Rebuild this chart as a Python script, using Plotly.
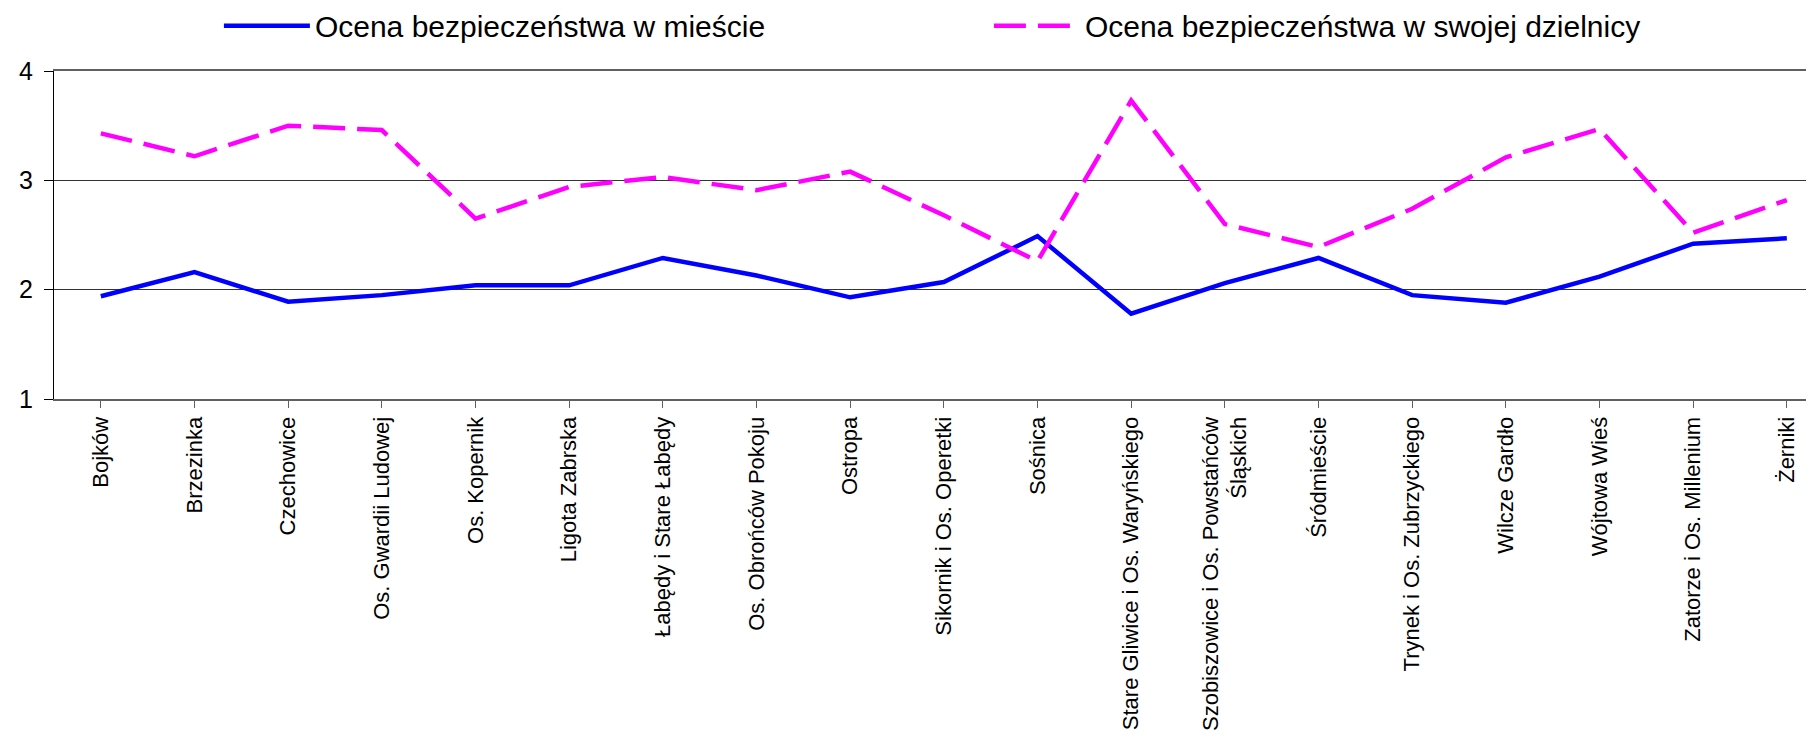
import plotly.graph_objects as go

districts = [
    "Bojków", "Brzezinka", "Czechowice", "Os. Gwardii Ludowej", "Os. Kopernik",
    "Ligota Zabrska", "Łabędy i Stare Łabędy", "Os. Obrońców Pokoju", "Ostropa",
    "Sikornik i Os. Operetki", "Sośnica", "Stare Gliwice i Os. Waryńskiego",
    "Szobiszowice i Os. Powstańców<br>Śląskich", "Śródmieście", "Trynek i Os. Zubrzyckiego",
    "Wilcze Gardło", "Wójtowa Wieś", "Zatorze i Os. Millenium", "Żerniki",
]

city_safety = [1.94, 2.16, 1.89, 1.95, 2.04, 2.04, 2.29, 2.13, 1.93, 2.07,
               2.49, 1.78, 2.06, 2.29, 1.95, 1.88, 2.12, 2.42, 2.47]

district_safety = [3.43, 3.22, 3.50, 3.46, 2.65, 2.94, 3.03, 2.91, 3.08, 2.68,
                   2.26, 3.73, 2.60, 2.39, 2.74, 3.21, 3.47, 2.52, 2.82]

series_names = ["Ocena bezpieczeństwa w mieście", "Ocena bezpieczeństwa w swojej dzielnicy"]

fig = go.Figure()

fig.add_trace(go.Scatter(
    x=list(range(len(districts))),
    y=city_safety,
    mode='lines',
    name=series_names[0],
    line=dict(color='#0000FF', width=4.5)
))

fig.add_trace(go.Scatter(
    x=list(range(len(districts))),
    y=district_safety,
    mode='lines',
    name=series_names[1],
    line=dict(color='#FF00FF', width=4.5, dash='32px,12px')
))

# page body has an 8px margin, so the figure is a bit smaller than the window
fig.update_layout(
    width=1806,
    height=728,
    margin=dict(l=46, r=0, t=63, b=337, autoexpand=False),
    plot_bgcolor='white',
    paper_bgcolor='white',
    font=dict(family='Liberation Sans, Arial, sans-serif', color='black'),
    legend=dict(
        orientation='h',
        x=0.0937, xanchor='left',
        y=1.138, yanchor='middle',
        font=dict(size=30),
        entrywidth=669,
        itemwidth=86,
        bgcolor='rgba(0,0,0,0)'
    ),
    xaxis=dict(
        tickmode='array',
        tickvals=list(range(len(districts))),
        ticktext=districts,
        tickangle=-90,
        tickfont=dict(size=22),
        range=[-0.5, 18.29],
        showgrid=False,
        showline=True,
        linecolor='#606060',
        linewidth=2,
        mirror=True,
        ticks='outside',
        tickson='boundaries',
        ticklen=7,
        tickcolor='#606060',
        zeroline=False
    ),
    yaxis=dict(
        range=[1, 4],
        dtick=1,
        tickfont=dict(size=25),
        ticklabelstandoff=6,
        showgrid=True,
        gridcolor='#333333',
        gridwidth=1,
        showline=True,
        linecolor='black',
        linewidth=1,
        ticks='outside',
        ticklen=9,
        tickcolor='black',
        zeroline=False
    )
)

fig.write_html("out.html")
